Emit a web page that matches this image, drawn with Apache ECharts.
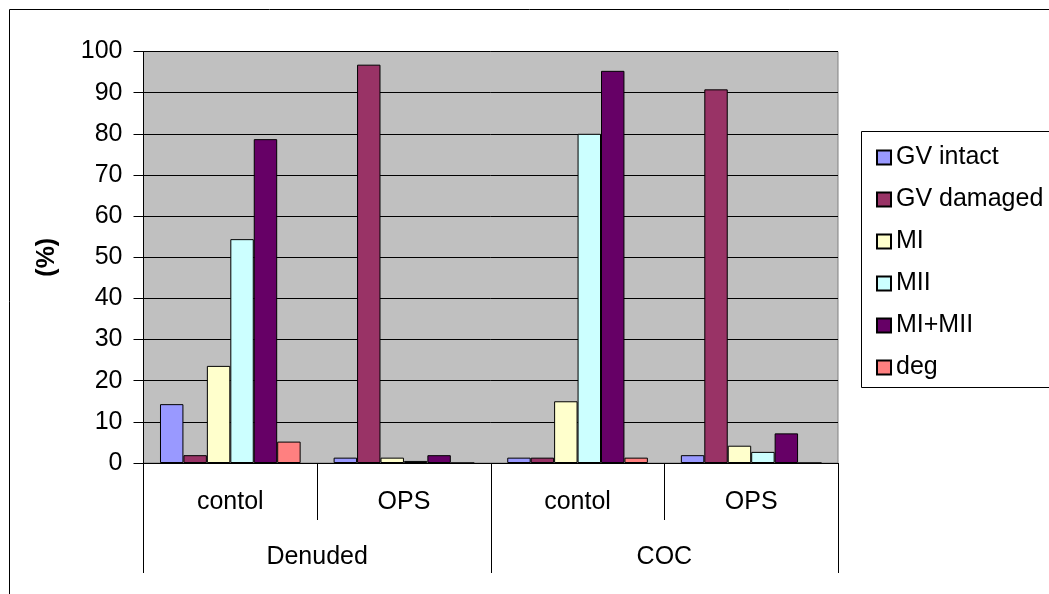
<!DOCTYPE html>
<html>
<head>
<meta charset="utf-8">
<script src="https://cdn.jsdelivr.net/npm/echarts@6/dist/echarts.min.js"></script>
<style>
    html, body { margin: 0; padding: 0; background: #fff; }
    #chart { width: 1049px; height: 594px; }
</style>
</head>
<body>
<div id="chart"></div>
<script>
    // categories (two levels) and series values
    const treatments = ['contol', 'OPS', 'contol', 'OPS']
    const groups = ['Denuded', 'COC']
    const yTicks = [0, 100, 10]   // min, max, step

    const gvIntact  = [14.3, 1.3, 1.3, 1.9]
    const gvDamaged = [1.9, 96.8, 1.3, 90.8]
    const mI        = [23.6, 1.3, 15.0, 4.2]
    const mII       = [54.4, 0.5, 80.0, 2.7]
    const mIplusII  = [78.7, 1.9, 95.3, 7.2]
    const deg       = [5.2, 0, 1.3, 0]

    const seriesDefs = [
        {name: 'GV intact', data: gvIntact, color: '#9999FF'},
        {name: 'GV damaged', data: gvDamaged, color: '#993366'},
        {name: 'MI', data: mI, color: '#FFFFCC'},
        {name: 'MII', data: mII, color: '#CCFFFF'},
        {name: 'MI+MII', data: mIplusII, color: '#660066'},
        {name: 'deg', data: deg, color: '#FF8080'}
    ]

    const font = 'Liberation Sans, Arial, sans-serif'
    const fs = 25
    const chart = echarts.init(document.getElementById('chart'))

    const option = {
        animation: false,
        textStyle: {fontFamily: font},
        grid: {
            left: 143.5,
            right: 211,
            top: 51.5,
            bottom: 131,
            show: true,
            backgroundColor: '#C0C0C0',
            borderColor: '#808080',
            borderWidth: 1
        },
        legend: {
            orient: 'vertical',
            left: 871,
            top: 140,
            itemWidth: 14,
            itemHeight: 14,
            itemGap: 17,
            icon: 'rect',
            textStyle: {fontFamily: font, fontSize: fs, lineHeight: 25, color: '#000'},
            data: seriesDefs.map(s => s.name)
        },
        xAxis: [{
            type: 'category',
            data: treatments,
            position: 'bottom',
            axisLine: {show: true, lineStyle: {color: '#000', width: 1}},
            axisTick: {show: true, interval: 0, length: 57, lineStyle: {color: '#000'}},
            axisLabel: {interval: 0, margin: 27, fontSize: fs, color: '#000', fontFamily: font}
        }, {
            type: 'category',
            data: groups,
            position: 'bottom',
            axisLine: {show: false},
            axisTick: {show: true, interval: 0, length: 110, lineStyle: {color: '#000'}},
            axisLabel: {interval: 0, margin: 82, fontSize: fs, color: '#000', fontFamily: font}
        }],
        yAxis: {
            type: 'value',
            min: yTicks[0],
            max: yTicks[1],
            interval: yTicks[2],
            name: '(%)',
            nameLocation: 'middle',
            nameGap: 84,
            nameRotate: 90,
            nameTextStyle: {fontSize: fs, fontWeight: 'bold', color: '#000', fontFamily: font},
            axisLine: {show: true, lineStyle: {color: '#000', width: 1}},
            axisTick: {show: true, inside: false, length: 10, lineStyle: {color: '#000'}},
            axisLabel: {margin: 21, fontSize: fs, color: '#000', fontFamily: font},
            splitLine: {show: true, lineStyle: {color: '#000', width: 1}}
        },
        graphic: [
            // outer chart frame (only top and left edges are in the picture)
            {type: 'line', shape: {x1: 9.5, y1: 9.5, x2: 1049, y2: 9.5}, style: {stroke: '#000', lineWidth: 1}},
            {type: 'line', shape: {x1: 9.5, y1: 9.5, x2: 9.5, y2: 594}, style: {stroke: '#000', lineWidth: 1}},
            // legend box, runs off the right edge
            {type: 'rect', shape: {x: 861.5, y: 131.5, width: 200, height: 256}, style: {fill: 'none', stroke: '#000', lineWidth: 1}}
        ],
        series: seriesDefs.map(s => ({
            type: 'bar',
            name: s.name,
            data: s.data,
            xAxisIndex: 0,
            barGap: '0%',
            barCategoryGap: '19%',
            itemStyle: {color: s.color, borderColor: '#000', borderWidth: 1}
        }))
    }

    chart.setOption(option)
</script>
</body>
</html>
